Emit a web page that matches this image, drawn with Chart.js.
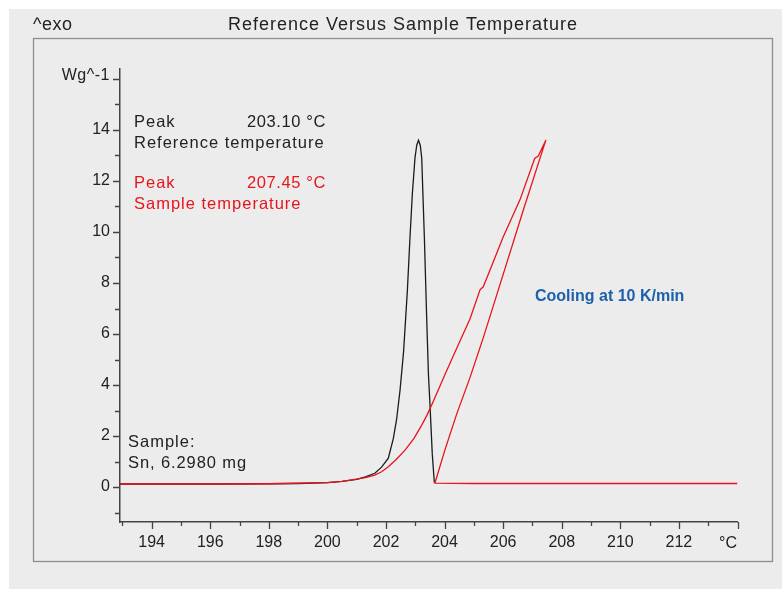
<!DOCTYPE html>
<html lang="en">
<head>
<meta charset="utf-8">
<title>Reference Versus Sample Temperature</title>
<script src="https://cdn.jsdelivr.net/npm/chart.js@4.4.0/dist/chart.umd.min.js"></script>
<style>
  html, body { margin: 0; padding: 0; background: #ffffff; }
  #wrap { position: relative; width: 782px; height: 589px; }
</style>
</head>
<body>
<div id="wrap"><canvas id="dscChart" width="782" height="589"></canvas></div>
<script>
// Reference temperature curve (black)
const refTemp = [192.92, 194, 196, 198, 199, 200, 200.5, 201, 201.3, 201.62, 201.85, 202.08, 202.25, 202.36, 202.48,
  202.6, 202.73, 202.82, 202.9, 202.99, 203.05, 203.11, 203.17, 203.22, 203.31, 203.39, 203.45, 203.5, 203.58, 203.65];
const refSignal = [0.12, 0.12, 0.12, 0.13, 0.14, 0.17, 0.22, 0.3, 0.4, 0.54, 0.78, 1.13, 1.9, 2.63, 3.8,
  5.3, 7.7, 9.8, 11.5, 12.9, 13.4, 13.6, 13.4, 12.9, 9.8, 6.6, 4.4, 3.28, 1.3, 0.18];

// Sample temperature curve (red) - rises to the peak, comes back down, then flat
const sampleTemp = [192.92, 196, 198, 200, 200.5, 200.94, 201.3, 201.62, 201.85, 202.08, 202.35, 202.65, 202.95,
  203.22, 203.4, 203.56, 203.84, 204.01, 204.3, 204.87, 205.21, 205.32, 205.6, 206.0, 206.57, 207.08, 207.2, 207.46,
  206.7, 205.95, 205.32, 204.87, 204.41, 204.01, 203.67, 205.0, 208.0, 211.0, 214.0];
const sampleSignal = [0.12, 0.12, 0.13, 0.17, 0.22, 0.3, 0.37, 0.47, 0.6, 0.8, 1.08, 1.45, 1.9,
  2.43, 2.82, 3.22, 3.95, 4.4, 5.15, 6.6, 7.73, 7.85, 8.65, 9.8, 11.25, 12.89, 12.98, 13.61,
  10.9, 8.15, 5.85, 4.3, 2.85, 1.45, 0.15, 0.14, 0.14, 0.14, 0.14];

// Axes
const xRange = [192.92, 214];
const yRange = [-1.37, 16.39];
const xLabelTicks = [194, 196, 198, 200, 202, 204, 206, 208, 210, 212];
const yLabelTicks = [0, 2, 4, 6, 8, 10, 12, 14];

const FONT = "'Liberation Sans', Arial, sans-serif";
const TEXT_DARK = "#222222";
const RED = "#e8141c";
const BLUE = "#1c60ab";

function toPoints(xs, ys) {
  return xs.map((x, i) => ({ x: x, y: ys[i] }));
}

function drawText(ctx, text, x, y, opts) {
  ctx.save();
  ctx.font = opts.font;
  ctx.fillStyle = opts.color || TEXT_DARK;
  ctx.textAlign = opts.align || "left";
  ctx.textBaseline = "alphabetic";
  ctx.letterSpacing = opts.spacing || "0px";
  ctx.fillText(text, x, y);
  ctx.restore();
}

// Background, frame, tick marks and the texts of the plot
const decorPlugin = {
  id: "decor",
  beforeDraw(chart) {
    const ctx = chart.ctx;
    ctx.save();
    ctx.fillStyle = "#ffffff";
    ctx.fillRect(0, 0, chart.width, chart.height);
    ctx.fillStyle = "#ececec";
    ctx.fillRect(9, 9, chart.width - 9, chart.height - 9);
    ctx.strokeStyle = "#8e8e8e";
    ctx.lineWidth = 1.3;
    ctx.strokeRect(33.5, 38.5, 739, 523);
    ctx.restore();
  },
  afterDraw(chart) {
    const ctx = chart.ctx;
    const xs = chart.scales.x;
    const ys = chart.scales.y;

    // tick marks: long on even values, short on odd ones
    ctx.save();
    ctx.strokeStyle = "#444444";
    ctx.lineWidth = 1.3;
    ctx.beginPath();
    xs.ticks.forEach(t => {
      const px = Math.round(xs.getPixelForValue(t.value)) + 0.5;
      const len = t.value % 2 === 0 ? 7 : 4;
      ctx.moveTo(px, xs.top);
      ctx.lineTo(px, xs.top + len);
    });
    ys.ticks.forEach(t => {
      const py = Math.round(ys.getPixelForValue(t.value)) + 0.5;
      const len = Math.abs(t.value % 2) === 0 ? 7 : 5;
      ctx.moveTo(ys.right, py);
      ctx.lineTo(ys.right - len, py);
    });
    ctx.stroke();
    ctx.restore();

    // titles and units
    drawText(ctx, "^exo", 33, 30, { font: "18px " + FONT, spacing: "0.5px" });
    drawText(ctx, "Reference Versus Sample Temperature", 403, 30, { font: "18px " + FONT, align: "center", spacing: "1px" });
    drawText(ctx, "Wg^-1", 110, 80, { font: "16px " + FONT, align: "right", spacing: "0.5px" });
    drawText(ctx, "°C", 737, 548, { font: "16px " + FONT, align: "right" });

    // annotations
    const ann = "16.5px " + FONT;
    drawText(ctx, "Peak", 134, 127, { font: ann, spacing: "1px" });
    drawText(ctx, "203.10 °C", 326, 127, { font: ann, align: "right", spacing: "0.6px" });
    drawText(ctx, "Reference temperature", 134, 147.5, { font: ann, spacing: "1px" });
    drawText(ctx, "Peak", 134, 187.5, { font: ann, color: RED, spacing: "1px" });
    drawText(ctx, "207.45 °C", 326, 187.5, { font: ann, color: RED, align: "right", spacing: "0.6px" });
    drawText(ctx, "Sample temperature", 134, 209, { font: ann, color: RED, spacing: "1px" });
    drawText(ctx, "Sample:", 128, 447, { font: ann, spacing: "1px" });
    drawText(ctx, "Sn, 6.2980 mg", 128, 468, { font: ann, spacing: "0.9px" });
    drawText(ctx, "Cooling at 10 K/min", 535, 301, { font: "bold 16px " + FONT, color: BLUE });
  }
};

function initChart() {
  const ctx = document.getElementById("dscChart").getContext("2d");
  new Chart(ctx, {
    type: "scatter",
    data: {
      datasets: [
        {
          label: "Sample temperature",
          data: toPoints(sampleTemp, sampleSignal),
          showLine: true,
          borderColor: RED,
          borderWidth: 1.3,
          pointRadius: 0,
          tension: 0,
          order: 0
        },
        {
          label: "Reference temperature",
          data: toPoints(refTemp, refSignal),
          showLine: true,
          borderColor: "#1b1b1b",
          borderWidth: 1.3,
          pointRadius: 0,
          tension: 0,
          order: 1
        }
      ]
    },
    options: {
      responsive: false,
      animation: false,
      devicePixelRatio: 1,
      layout: { padding: { left: 0, top: 69, right: 44.5, bottom: 0 } },
      plugins: { legend: { display: false }, tooltip: { enabled: false } },
      scales: {
        x: {
          type: "linear",
          min: xRange[0],
          max: xRange[1],
          afterFit: s => { s.height = 67; },
          grid: { drawOnChartArea: false, drawTicks: false },
          border: { color: "#444444", width: 1.5 },
          ticks: {
            stepSize: 1,
            includeBounds: false,
            autoSkip: false,
            maxRotation: 0,
            padding: 11,
            color: TEXT_DARK,
            font: { family: FONT, size: 16 },
            callback: v => (xLabelTicks.includes(v) ? String(v) : "")
          }
        },
        y: {
          type: "linear",
          min: yRange[0],
          max: yRange[1],
          afterFit: s => { s.width = 120; },
          grid: { drawOnChartArea: false, drawTicks: false },
          border: { color: "#444444", width: 1.5 },
          ticks: {
            stepSize: 1,
            includeBounds: false,
            autoSkip: false,
            padding: 10,
            color: TEXT_DARK,
            font: { family: FONT, size: 16 },
            callback: v => (yLabelTicks.includes(v) ? String(v) : "")
          }
        }
      }
    },
    plugins: [decorPlugin]
  });
}

document.addEventListener("DOMContentLoaded", initChart);
</script>
</body>
</html>
